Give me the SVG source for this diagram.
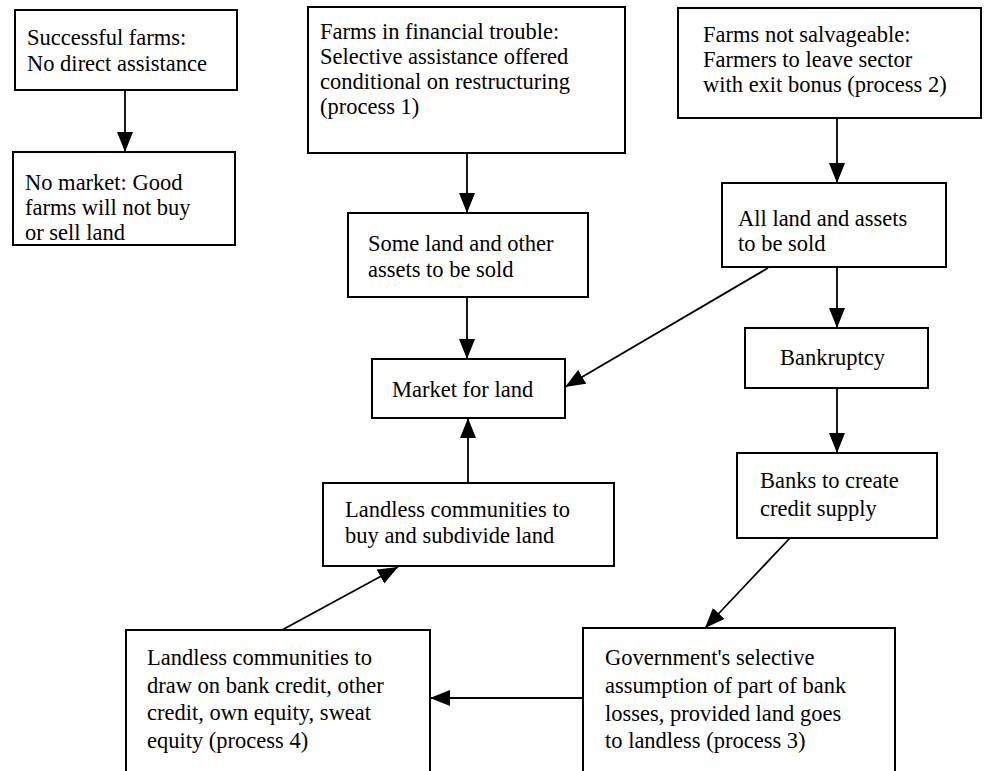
<svg xmlns="http://www.w3.org/2000/svg" width="984" height="771" viewBox="0 0 984 771">
<style>
  .box { fill: #ffffff; stroke: #000000; stroke-width: 2; }
  .t { font-family: "Liberation Serif", "Times New Roman", serif; font-size: 22.5px; fill: #000000; }
  .c { fill: none; stroke: #000000; stroke-width: 1.8; marker-end: url(#ah); }
</style>
<defs>
  <marker id="ah" markerUnits="userSpaceOnUse" markerWidth="20" markerHeight="16" refX="20" refY="8" orient="auto">
    <path d="M0,0 L20,8 L0,16 z" fill="#000000"/>
  </marker>
</defs>
<rect x="0" y="0" width="984" height="771" fill="#ffffff"/>

<g id="connectors">
  <line class="c" x1="125" y1="90" x2="125" y2="152"/>
  <line class="c" x1="467" y1="153" x2="467" y2="213"/>
  <line class="c" x1="467" y1="297" x2="467" y2="359"/>
  <line class="c" x1="837" y1="118" x2="837" y2="183"/>
  <line class="c" x1="837" y1="267" x2="837" y2="328"/>
  <line class="c" x1="768" y1="268" x2="565" y2="387"/>
  <line class="c" x1="837" y1="388" x2="837" y2="453"/>
  <line class="c" x1="468" y1="483" x2="468" y2="418"/>
  <line class="c" x1="790" y1="538" x2="705" y2="628"/>
  <line class="c" x1="282" y1="630" x2="398" y2="567"/>
  <line class="c" x1="583" y1="698" x2="430" y2="698"/>
</g>

<g id="successful-farms">
  <rect class="box" x="15" y="10" width="222" height="80"/>
  <text class="t" x="27" y="45">Successful farms:</text>
  <text class="t" x="27" y="71">No direct assistance</text>
</g>
<g id="no-market">
  <rect class="box" x="13" y="152" width="222" height="93"/>
  <text class="t" x="25" y="190">No market: Good</text>
  <text class="t" x="25" y="215">farms will not buy</text>
  <text class="t" x="25" y="240">or sell land</text>
</g>
<g id="financial-trouble">
  <rect class="box" x="308" y="7" width="317" height="146"/>
  <text class="t" x="320" y="39">Farms in financial trouble:</text>
  <text class="t" x="320" y="64">Selective assistance offered</text>
  <text class="t" x="320" y="89">conditional on restructuring</text>
  <text class="t" x="320" y="114">(process 1)</text>
</g>
<g id="some-land">
  <rect class="box" x="348" y="213" width="240" height="84"/>
  <text class="t" x="368" y="251">Some land and other</text>
  <text class="t" x="368" y="277">assets to be sold</text>
</g>
<g id="not-salvageable">
  <rect class="box" x="678" y="8" width="303" height="110"/>
  <text class="t" x="703" y="42">Farms not salvageable:</text>
  <text class="t" x="703" y="67">Farmers to leave sector</text>
  <text class="t" x="703" y="92">with exit bonus (process 2)</text>
</g>
<g id="all-land">
  <rect class="box" x="722" y="183" width="224" height="84"/>
  <text class="t" x="738" y="226">All land and assets</text>
  <text class="t" x="738" y="251">to be sold</text>
</g>
<g id="bankruptcy">
  <rect class="box" x="745" y="328" width="183" height="60"/>
  <text class="t" x="780" y="365">Bankruptcy</text>
</g>
<g id="market">
  <rect class="box" x="372" y="359" width="193" height="59"/>
  <text class="t" x="392" y="397">Market for land</text>
</g>
<g id="landless-buy">
  <rect class="box" x="323" y="483" width="291" height="83"/>
  <text class="t" x="345" y="517">Landless communities to</text>
  <text class="t" x="345" y="543">buy and subdivide land</text>
</g>
<g id="banks">
  <rect class="box" x="737" y="453" width="200" height="85"/>
  <text class="t" x="760" y="488">Banks to create</text>
  <text class="t" x="760" y="516">credit supply</text>
</g>
<g id="landless-draw">
  <rect class="box" x="126" y="630" width="304" height="160"/>
  <text class="t" x="147" y="665">Landless communities to</text>
  <text class="t" x="147" y="693">draw on bank credit, other</text>
  <text class="t" x="147" y="720">credit, own equity, sweat</text>
  <text class="t" x="147" y="748">equity (process 4)</text>
</g>
<g id="government">
  <rect class="box" x="583" y="628" width="312" height="162"/>
  <text class="t" x="605" y="665">Government's selective</text>
  <text class="t" x="605" y="693">assumption of part of bank</text>
  <text class="t" x="605" y="721">losses, provided land goes</text>
  <text class="t" x="605" y="748">to landless (process 3)</text>
</g>
</svg>
